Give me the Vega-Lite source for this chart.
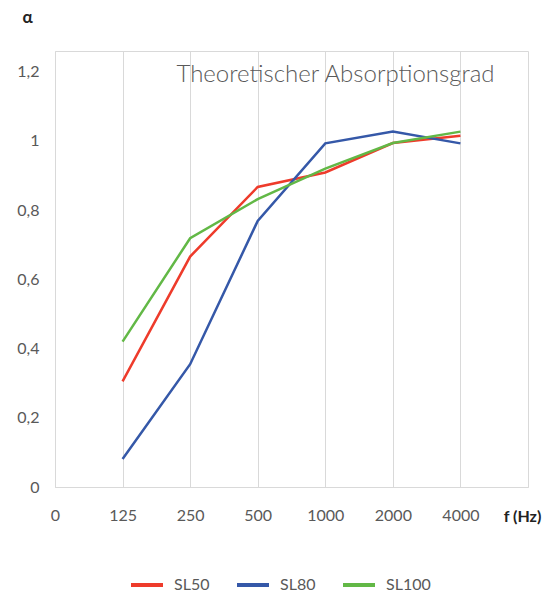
{
  "$schema": "https://vega.github.io/schema/vega-lite/v6.json",
  "autosize": {"type": "none"},
  "padding": {"left": 55, "top": 51, "right": 20, "bottom": 105},
  "width": 473,
  "height": 436,
  "background": "white",
  "config": {
    "font": "Lato",
    "view": {"stroke": "#d9d9d9", "strokeWidth": 1}
  },
  "title": {
    "text": "Theoretischer Absorptionsgrad",
    "font": "Lato",
    "fontWeight": 300,
    "fontSize": 24,
    "color": "#595959",
    "anchor": "middle",
    "dx": 44,
    "dy": 46,
    "baseline": "top",
    "offset": -33
  },
  "data": {
    "values": [
      {"i": 1, "f": "125", "serie": "SL50", "alpha": 0.305},
      {"i": 2, "f": "250", "serie": "SL50", "alpha": 0.666},
      {"i": 3, "f": "500", "serie": "SL50", "alpha": 0.867},
      {"i": 4, "f": "1000", "serie": "SL50", "alpha": 0.909},
      {"i": 5, "f": "2000", "serie": "SL50", "alpha": 0.994},
      {"i": 6, "f": "4000", "serie": "SL50", "alpha": 1.015},
      {"i": 1, "f": "125", "serie": "SL80", "alpha": 0.081},
      {"i": 2, "f": "250", "serie": "SL80", "alpha": 0.355},
      {"i": 3, "f": "500", "serie": "SL80", "alpha": 0.769},
      {"i": 4, "f": "1000", "serie": "SL80", "alpha": 0.993},
      {"i": 5, "f": "2000", "serie": "SL80", "alpha": 1.027},
      {"i": 6, "f": "4000", "serie": "SL80", "alpha": 0.993},
      {"i": 1, "f": "125", "serie": "SL100", "alpha": 0.42},
      {"i": 2, "f": "250", "serie": "SL100", "alpha": 0.719},
      {"i": 3, "f": "500", "serie": "SL100", "alpha": 0.832},
      {"i": 4, "f": "1000", "serie": "SL100", "alpha": 0.92},
      {"i": 5, "f": "2000", "serie": "SL100", "alpha": 0.994},
      {"i": 6, "f": "4000", "serie": "SL100", "alpha": 1.027}
    ]
  },
  "mark": {"type": "line", "strokeWidth": 2.5},
  "encoding": {
    "x": {
      "field": "i",
      "type": "quantitative",
      "scale": {"domain": [0, 7], "nice": false, "zero": false},
      "axis": {
        "values": [0, 1, 2, 3, 4, 5, 6],
        "labelExpr": "['0','125','250','500','1000','2000','4000'][datum.value]",
        "labelFlush": false,
        "grid": true,
        "gridColor": "#d9d9d9",
        "gridWidth": 1,
        "domainColor": "#d9d9d9",
        "domainWidth": 1,
        "ticks": false,
        "labelFont": "Lato",
        "labelFontSize": 16,
        "labelColor": "#595959",
        "labelPadding": 20,
        "title": "f (Hz)",
        "titleFont": "Lato",
        "titleFontSize": 16,
        "titleFontWeight": "bold",
        "titleColor": "#222222",
        "titleAnchor": "start",
        "titleAlign": "center",
        "titleBaseline": "middle",
        "titleX": 467,
        "titleY": 29
      }
    },
    "y": {
      "field": "alpha",
      "type": "quantitative",
      "scale": {"domain": [0, 1.26], "nice": false},
      "axis": {
        "values": [0, 0.2, 0.4, 0.6, 0.8, 1, 1.2],
        "labelExpr": "replace(format(datum.value, '~g'), '.', ',')",
        "labelFlush": false,
        "grid": false,
        "domain": false,
        "ticks": false,
        "labelFont": "Lato",
        "labelFontSize": 16,
        "labelColor": "#595959",
        "labelPadding": 16,
        "title": "α",
        "titleFont": "Lato",
        "titleFontSize": 17,
        "titleFontWeight": "bold",
        "titleColor": "#222222",
        "titleAngle": 0,
        "titleAlign": "center",
        "titleBaseline": "middle",
        "titleX": -28,
        "titleY": -34
      }
    },
    "color": {
      "field": "serie",
      "type": "nominal",
      "scale": {
        "domain": ["SL50", "SL80", "SL100"],
        "range": ["#ee3b2b", "#3558a8", "#62b846"]
      },
      "legend": {
        "title": null,
        "orient": "none",
        "direction": "horizontal",
        "legendX": 74,
        "legendY": 516,
        "symbolType": "stroke",
        "symbolSize": 1024,
        "symbolStrokeWidth": 4,
        "labelFont": "Lato",
        "labelFontSize": 16,
        "labelColor": "#595959",
        "labelOffset": 9,
        "columnPadding": 19
      }
    }
  }
}
